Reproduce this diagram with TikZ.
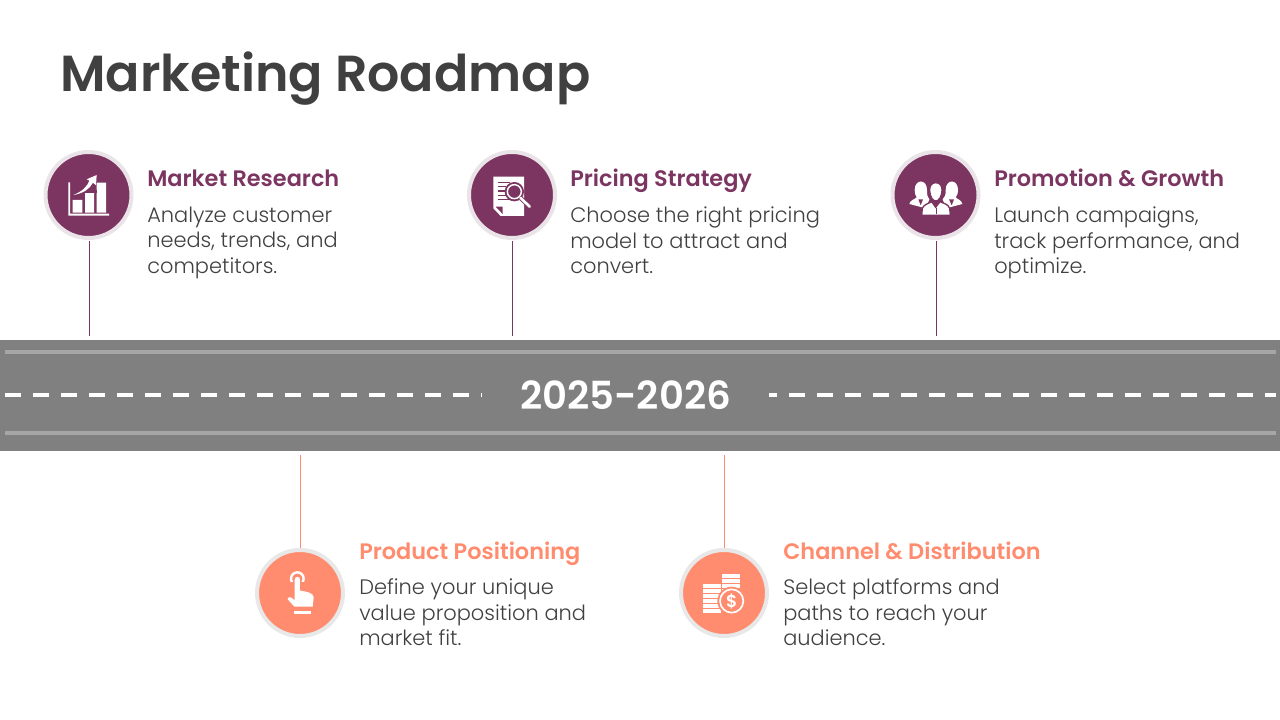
\documentclass[tikz,border=0pt]{standalone}
\usepackage{fontspec}
\setmainfont{Poppins}
\newfontfamily\bodyf{Poppins Light}
\newfontfamily\headf{Poppins SemiBold}
\definecolor{plum}{HTML}{7B3560}
\definecolor{coral}{HTML}{FF8C6E}
\definecolor{ringplum}{HTML}{EAE3E8}
\definecolor{ringcoral}{HTML}{E8E8E8}
\definecolor{roadgray}{HTML}{808080}
\definecolor{edgegray}{HTML}{A6A6A6}
\definecolor{ink}{HTML}{404040}
\tikzset{
  badge/.style={circle,inner sep=0pt,outer sep=0pt,minimum size=64.5pt,line width=3pt},
  plumbadge/.style={badge,fill=plum,draw=ringplum},
  coralbadge/.style={badge,fill=coral,draw=ringcoral},
  heading/.style={anchor=base west,inner sep=0pt,font=\headf\fontsize{16.8}{20}\selectfont},
  bodytext/.style={anchor=north west,inner sep=0pt,align=left,text=ink,font=\bodyf\fontsize{15.7}{19.15}\selectfont},
  plumline/.style={draw=plum,line width=.75pt},
  coralline/.style={draw=coral,line width=.75pt},
  icon/.style={x=.25pt,y=-.25pt}
}
\begin{document}
\begin{tikzpicture}[x=.75pt,y=-.75pt]
\useasboundingbox (0,0) rectangle (1280,720);
\node[anchor=base west,inner sep=0pt,text=ink,font=\headf\fontsize{38}{46}\selectfont] (title) at (60,92) {Marketing Roadmap};
% road
\node[fill=roadgray,inner sep=0pt,outer sep=0pt,minimum width=960pt,minimum height=83.25pt] (road) at (640,395.5) {};
\coordinate (edgeAl) at (5,352); \coordinate (edgeAr) at (1276,352);
\coordinate (edgeBl) at (5,433); \coordinate (edgeBr) at (1276,433);
\coordinate (midl) at (5,395); \coordinate (midr) at (1276,395);
\draw[edgegray,line width=3pt] (edgeAl) -- (edgeAr);
\draw[edgegray,line width=3pt] (edgeBl) -- (edgeBr);
\draw[white,line width=3pt,dash pattern=on 12pt off 9pt] (midl) -- (midr);
\node[fill=roadgray,inner sep=0pt,minimum width=215.25pt,minimum height=45pt] (yearbox) at (625.5,395) {};
\node[text=white,inner sep=0pt,font=\headf\fontsize{29}{34}\selectfont] (year) at (625.5,395) {2025-2026};
% badges
\node[plumbadge] (b1) at (88.5,195) {};
\node[plumbadge] (b2) at (512,195) {};
\node[plumbadge] (b3) at (935.5,195) {};
\node[coralbadge] (b4) at (300,593) {};
\node[coralbadge] (b5) at (724,593) {};
% connectors
\coordinate (e1) at (89,336); \coordinate (e2) at (512.5,336); \coordinate (e3) at (936.5,336);
\coordinate (e4) at (300,455); \coordinate (e5) at (724.5,455);
\draw[plumline] (89,241) -- (e1);
\draw[plumline] (512.5,241) -- (e2);
\draw[plumline] (936.5,241) -- (e3);
\draw[coralline] (e4) -- (300,548);
\draw[coralline] (e5) -- (724.5,548);
% texts
\node[heading,text=plum] (h1) at (147,187) {Market Research};
\node[bodytext] (t1) at (147,206.5) {Analyze customer\\needs, trends, and\\competitors.};
\node[heading,text=plum] (h2) at (570,187) {Pricing Strategy};
\node[bodytext] (t2) at (570,206.5) {Choose the right pricing\\model to attract and\\convert.};
\node[heading,text=plum] (h3) at (994,187) {Promotion \& Growth};
\node[bodytext] (t3) at (994,206.5) {Launch campaigns,\\track performance, and\\optimize.};
\node[heading,text=coral] (h4) at (359,559) {Product Positioning};
\node[bodytext] (t4) at (359,578.5) {Define your unique\\value proposition and\\market fit.};
\node[heading,text=coral] (h5) at (783,559) {Channel \& Distribution};
\node[bodytext] (t5) at (783,578.5) {Select platforms and\\paths to reach your\\audience.};
% icon 1: chart
\begin{scope}[shift={(30,140)},icon]
\fill[white] (115,127) rectangle (120,227) (115,221) rectangle (237,227);
\fill[white] (128,180) rectangle (157,218) (165,155) rectangle (192,218) (200,128) rectangle (228,218);
\fill[plum] (158,150) rectangle (200,160);
\fill[white] (130,165) .. controls (155,155) and (172,140) .. (178,122) -- (170,118) -- (200,105) -- (198,136) -- (189,128) .. controls (178,148) and (160,160) .. (130,165) -- cycle;
\end{scope}
% icon 2: document and lens
\begin{scope}[shift={(455,140)},icon]
\fill[white] (115,110) -- (207,110) -- (207,228) -- (137,228) -- (115,205) -- cycle;
\fill[plum] (122,200) -- (143,200) -- (143,222) -- cycle;
\draw[plum,line width=.9pt] (128,127) -- (165,127) (128,140) -- (152,140) (128,153) -- (150,153) (128,166) -- (152,166) (128,179) -- (165,179);
\fill[plum] (178,155) circle (29);
\draw[plum,line width=3.4pt] (198,175) -- (224,200);
\draw[white,line width=1.1pt] (178,155) circle (21);
\draw[white,line width=2pt,line cap=round] (197,174) -- (224,200);
\end{scope}
% icon 3: team
\begin{scope}[shift={(880,140)},icon]
\fill[white] (104,150) .. controls (104,116) and (141,116) .. (141,150) .. controls (141,165) and (142,172) .. (148,178) -- (138,205) -- (88,192) .. controls (90,180) and (105,178) .. (110,172) .. controls (105,165) and (104,158) .. (104,150) -- cycle;
\fill[white] (197,150) .. controls (197,116) and (234,116) .. (234,150) .. controls (234,158) and (233,165) .. (227,172) .. controls (232,178) and (245,180) .. (247,192) -- (198,205) -- (188,178) .. controls (195,172) and (197,165) .. (197,150) -- cycle;
\fill[plum] (115,178) -- (122,196) -- (129,178) -- cycle;
\fill[plum] (207,178) -- (215,196) -- (222,178) -- cycle;
\fill[white,draw=plum,line width=1pt] (125,226) -- (127,205) .. controls (132,192) and (148,190) .. (155,185) -- (167,202) -- (180,185) .. controls (190,190) and (205,192) .. (209,205) -- (211,226) -- cycle;
\fill[white,draw=plum,line width=1pt] (167,128) .. controls (155,128) and (148,138) .. (149,152) .. controls (150,170) and (158,183) .. (167,183) .. controls (177,183) and (185,170) .. (186,152) .. controls (187,138) and (180,128) .. (167,128) -- cycle;
\draw[plum,line width=.75pt] (168,203) -- (168,222);
\end{scope}
% icon 4: pointing hand
\begin{scope}[shift={(245,540)},icon]
\draw[white,line width=1.8pt] (157,116) circle (19);
\fill[coral] (138,126) rectangle (176,145);
\fill[white,draw=coral,line width=.9pt] (147,118) arc[start angle=180,end angle=360,radius=10] -- (167,150) .. controls (180,152) and (207,155) .. (208,170) -- (205,202) -- (147,202) -- (125,178) .. controls (127,166) and (140,168) .. (147,176) -- cycle;
\fill[white] (148,212) rectangle (197,222);
\end{scope}
% icon 5: coins
\begin{scope}[shift={(670,540)},icon]
\foreach \yy in {132,147,162,177,192,207}{\fill[white] (100,\yy) rectangle (153,\yy+11);}
\foreach \yy in {102,117,132,147}{\fill[white] (157,\yy) rectangle (210,\yy+11);}
\fill[coral] (185,183) circle (43);
\draw[white,line width=1.25pt] (185,183) circle (35);
\node[text=white,inner sep=0pt,font=\headf\fontsize{13}{13}\selectfont] (dollar) at (185,183) {\$};
\end{scope}
\end{tikzpicture}
\end{document}
